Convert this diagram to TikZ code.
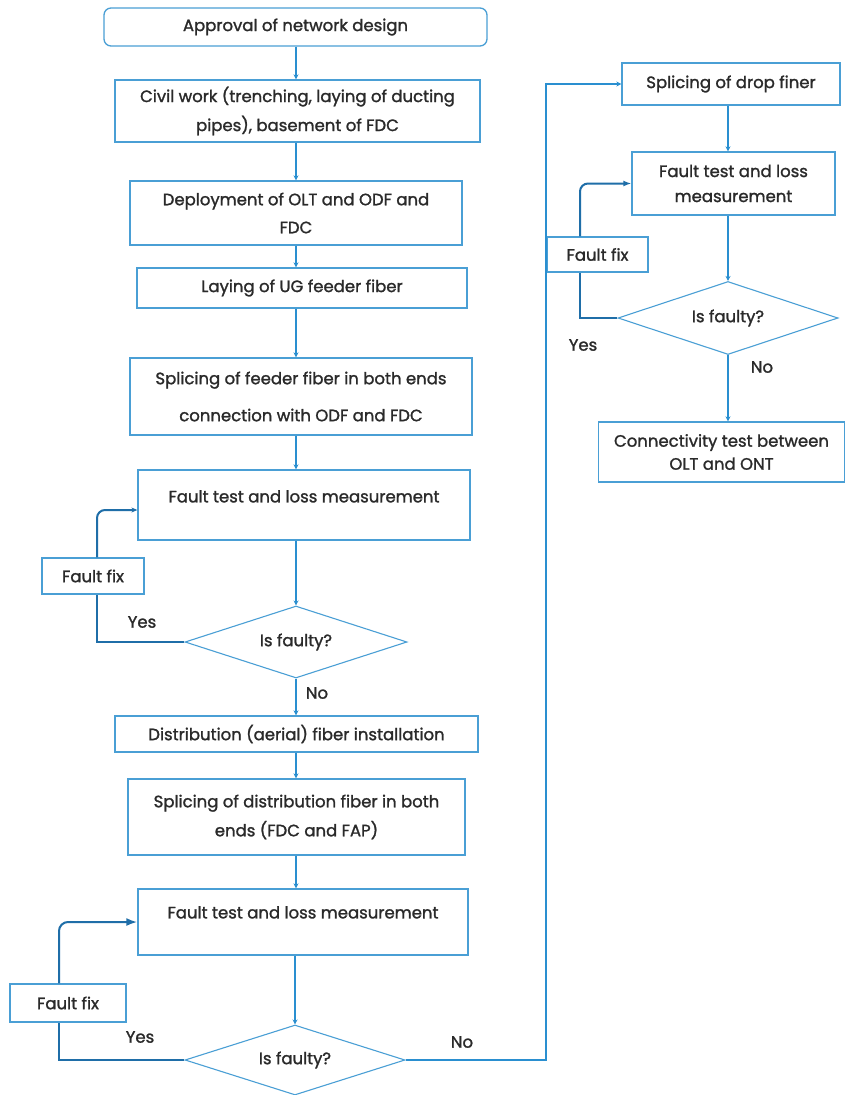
\documentclass[tikz,border=0pt]{standalone}
\usepackage{fontspec}
\setmainfont{Poppins}[FakeBold=1.4]
\usetikzlibrary{shapes.geometric,arrows.meta}
\definecolor{boxc}{HTML}{4A9FD5}
\definecolor{linec}{HTML}{2A8FD0}
\definecolor{loopc}{HTML}{1F6EA8}
\definecolor{txtc}{HTML}{2A2A2A}
\newcommand\myfs[1]{\fontsize{16.5}{#1}\selectfont}
\begin{document}
\begin{tikzpicture}[x=1pt,y=-1pt,
  box/.style={draw=boxc, line width=1.3pt, rectangle, align=center, inner sep=2pt, text=txtc, font=\myfs{20}},
  dia/.style={draw=boxc, line width=1.1pt, diamond, aspect=3, inner sep=0pt, text=txtc, font=\myfs{20}},
  lbl/.style={text=txtc, font=\myfs{20}, inner sep=1pt},
  flow/.style={draw=linec, line width=1.1pt, -{Stealth[length=5pt,width=5pt]}},
  loopl/.style={draw=loopc, line width=2pt},
]
\useasboundingbox (0,0) rectangle (845,1095);
\fill[white] (0,0) rectangle (845,1095);

% left column
\node[box, rounded corners=7pt, minimum width=383pt, minimum height=38pt] (A) at (295.5,27) {Approval of network design};
\node[box, minimum width=365pt, minimum height=62pt, font=\myfs{29}] (B) at (297.5,111) {Civil work (trenching, laying of ducting\\pipes), basement of FDC};
\node[box, minimum width=332pt, minimum height=64pt, font=\myfs{28}] (C) at (296,213) {Deployment of OLT and ODF and\\FDC};
\node[box, minimum width=330pt, minimum height=40pt] (D) at (302,288) {Laying of UG feeder fiber};
\node[box, minimum width=342pt, minimum height=77pt, font=\myfs{37}] (E) at (301,396.5) {Splicing of feeder fiber in both ends\\connection with ODF and FDC};
\node[box, minimum width=332pt, minimum height=70pt,
  label={[lbl, anchor=center, yshift=-27pt]north:Fault test and loss measurement}] (F) at (304,505) {};
\node[dia, minimum width=222pt, minimum height=72pt] (G) at (296,642) {Is faulty?};
\node[box, minimum width=102pt, minimum height=36pt] (H) at (93,576) {Fault fix};
\node[box, minimum width=363pt, minimum height=36pt] (I) at (296.5,734) {Distribution (aerial) fiber installation};
\node[box, minimum width=337pt, minimum height=76pt, font=\myfs{29}] (J) at (296.5,817) {Splicing of distribution fiber in both\\ends (FDC and FAP)};
\node[box, minimum width=330pt, minimum height=66pt,
  label={[lbl, anchor=center, yshift=-24pt]north:Fault test and loss measurement}] (K) at (303,922) {};
\node[dia, minimum width=220pt, minimum height=70pt] (L) at (295,1060) {Is faulty?};
\node[box, minimum width=116pt, minimum height=38pt] (M) at (68,1003) {Fault fix};

% right column
\node[box, minimum width=218pt, minimum height=42pt] (R1) at (731,84) {Splicing of drop finer};
\node[box, minimum width=203pt, minimum height=63pt, font=\myfs{25}] (R2) at (733.5,183.5) {Fault test and loss\\measurement};
\node[box, minimum width=101pt, minimum height=35pt] (RF) at (597.5,254.5) {Fault fix};
\node[dia, minimum width=220pt, minimum height=73pt] (RD) at (728,318) {Is faulty?};
\node[box, minimum width=246pt, minimum height=60pt, font=\myfs{23}] (R3) at (721.5,452) {Connectivity test between\\OLT and ONT};

% labels
\node[lbl] (y1) at (142,622) {Yes};
\node[lbl] (n1) at (317,693) {No};
\node[lbl] (y3) at (140,1037) {Yes};
\node[lbl] (n3) at (462,1042) {No};
\node[lbl] (yR) at (583,345) {Yes};
\node[lbl] (nR) at (762,367) {No};

% main flow
\coordinate (X) at (296,0);
\draw[flow] (A.south -| X) -- (B.north -| X);
\draw[flow] (B.south -| X) -- (C.north -| X);
\draw[flow] (C.south -| X) -- (D.north -| X);
\draw[flow] (D.south -| X) -- (E.north -| X);
\draw[flow] (E.south -| X) -- (F.north -| X);
\draw[flow] (F.south -| G) -- (G.north);
\draw[flow] (G.south) -- (I.north -| G);
\draw[flow] (I.south -| X) -- (J.north -| X);
\draw[flow] (J.south -| X) -- (K.north -| X);
\draw[flow] (K.south -| L) -- (L.north);

\draw[flow] (R1.south -| RD) -- (R2.north -| RD);
\draw[flow] (R2.south -| RD) -- (RD.north);
\draw[flow] (RD.south) -- (R3.north -| RD);

% No from bottom diamond to right column
\coordinate (nb) at (546,1060);
\draw[flow] (L.east) -- (nb) -- (nb |- R1.west) -- (R1.west);

% loops
\coordinate (l1b) at (97,642);
\coordinate (l1t) at (97,510);
\draw[loopl] (G.west) -- (l1b) -- (l1b |- H.south);
\draw[loopl, rounded corners=8pt, -{Stealth[length=6pt,width=5pt]}] (l1b |- H.north) -- (l1t) -- (F.west |- l1t);

\coordinate (l3b) at (59,1060);
\coordinate (l3t) at (59,922);
\draw[loopl] (L.west) -- (l3b) -- (l3b |- M.south);
\draw[loopl, rounded corners=9pt, -{Latex[length=11pt,width=8pt]}] (l3b |- M.north) -- (l3t) -- (K.west);

\coordinate (lRb) at (580,318);
\coordinate (lRt) at (580,183.5);
\draw[loopl] (RD.west) -- (lRb) -- (lRb |- RF.south);
\draw[loopl, rounded corners=8pt, -{Latex[length=8pt,width=6pt]}] (lRb |- RF.north) -- (lRt) -- (R2.west);
\end{tikzpicture}
\end{document}
